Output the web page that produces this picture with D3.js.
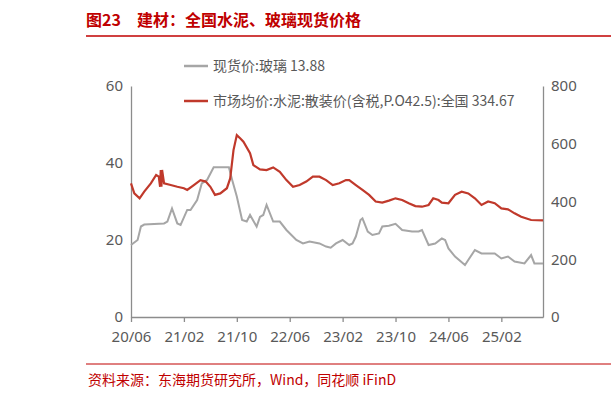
<!DOCTYPE html><html><head><meta charset="utf-8"><script src="https://cdn.jsdelivr.net/npm/d3@7"></script>
<style>body{margin:0;background:#fff;font-family:"Noto Sans CJK SC","Noto Sans",sans-serif}</style></head><body><svg id="c" width="611" height="400"></svg><script>
const tickLabels=["20/06","21/02","21/10","22/06","23/02","23/10","24/06","25/02"];
const tickMonths=[0,8,16,24,32,40,48,56];
const glassM=[0,1,1.5,2,5,5.5,6.2,7,7.5,8.5,9,10,10.7,11.5,12.5,14.8,15.3,16,16.8,17.5,18,19,19.5,20,20.5,21.5,22.5,23.5,25,26,27,28.5,29.5,30.2,31,32,33,33.5,34,34.7,35,35.8,36.5,37.5,38,39,40,41,42.5,43.5,44,45,46,47,47.5,48,49,50.5,51,52,53,54,55,56,57,58,59.5,60.5,61,62.3];
const glassV=[18.7,20,23.5,24,24.3,24.8,28.2,24.3,23.9,27.8,27.8,30.4,34.7,35.6,38.9,38.9,35.6,31.3,25.2,24.8,26.5,23.5,26,26.5,29.1,24.8,24.8,22.6,20,19.1,19.6,19.1,18.3,18,19.1,20,18.7,19.1,20.9,25.2,25.6,22.2,21.3,21.7,23.5,23.7,24.2,22.6,22.2,22.2,22.6,18.7,19.1,20.4,20,17.8,15.7,13.5,14.8,17.4,16.5,16.5,16.5,15.2,15.7,14.4,13.9,16.1,13.9,13.88];
const cemM=[0,0.5,1.3,2,3,3.8,4.2,4.4,4.5,4.6,4.7,5,6,7,8,8.5,9.5,10.5,11.3,12,12.7,13.5,14.5,15,15.5,16,16.5,17,18,18.5,19.5,20.5,21.5,22.5,23.5,24.5,25.5,26.5,27.5,28.5,29.5,30.5,31.5,32.5,33,34,35,36,37,38,39,40,41,42,43,44,45,45.7,46.5,47,48,49,50,51,52,53,54,55,56,57,58,59,60.5,62.3];
const cemV=[463,428,411,434,463,492,486,451,509,451,509,463,457,451,446,440,457,474,469,451,423,428,446,480,578,630,619,607,567,526,511,509,518,503,474,451,457,469,486,486,474,457,463,474,474,457,440,423,400,396,403,411,405,394,384,382,388,411,405,396,394,423,434,428,411,388,400,394,376,373,359,347,336,334.67];
const svg=d3.select("#c");
const red="#c0392b";
svg.append("text").attr("x",86).attr("y",26).attr("fill","#c00000").attr("font-size",16).attr("font-weight","bold").text("图23　建材：全国水泥、玻璃现货价格");
svg.append("line").attr("x1",86).attr("x2",611).attr("y1",36).attr("y2",36).attr("stroke","#c00000").attr("stroke-width",1.5);
svg.append("line").attr("x1",86).attr("x2",611).attr("y1",364).attr("y2",364).attr("stroke","#c00000").attr("stroke-width",1);
svg.append("text").attr("x",88).attr("y",385).attr("fill","#c00000").attr("font-size",14).text("资料来源：东海期货研究所，Wind，同花顺 iFinD");
const x=d3.scaleLinear().domain([0,62.3]).range([131,543]);
const yL=d3.scaleLinear().domain([0,60]).range([317,86]);
const yR=d3.scaleLinear().domain([0,800]).range([317,86]);
const g="#8c8c8c";
const ax=svg.append("g").attr("transform","translate(0,317)").call(d3.axisBottom(x).tickValues(tickMonths).tickFormat((d,i)=>tickLabels[i]).tickSize(5).tickSizeOuter(0));
const al=svg.append("g").attr("transform","translate(131,0)").call(d3.axisLeft(yL).tickValues([0,20,40,60]).tickSize(0).tickPadding(8));
const ar=svg.append("g").attr("transform","translate(543,0)").call(d3.axisRight(yR).tickValues([0,200,400,600,800]).tickSize(0).tickPadding(8));
[ax,al,ar].forEach(a=>{a.selectAll("path,line").attr("stroke",g).attr("stroke-width",1.3);a.selectAll("text").attr("fill","#595959").attr("font-size",15).attr("font-family","Noto Sans");});
ax.selectAll("text").attr("dy","1.1em");
svg.append("path").attr("d",d3.line().x((d,i)=>x(glassM[i])).y(d=>yL(d))(glassV)).attr("fill","none").attr("stroke","#a6a6a6").attr("stroke-width",2);
svg.append("path").attr("d",d3.line().x((d,i)=>x(cemM[i])).y(d=>yR(d))(cemV)).attr("fill","none").attr("stroke",red).attr("stroke-width",2.2);
const lg=[["现货价:玻璃 13.88","#a6a6a6",66],["市场均价:水泥:散装价(含税,P.O42.5):全国 334.67",red,101]];
lg.forEach(([t,c,yy])=>{svg.append("line").attr("x1",184).attr("x2",208).attr("y1",yy).attr("y2",yy).attr("stroke",c).attr("stroke-width",2.5);
svg.append("text").attr("x",213).attr("y",yy+5).attr("font-size",14).attr("fill","#595959").text(t);});
</script></body></html>
